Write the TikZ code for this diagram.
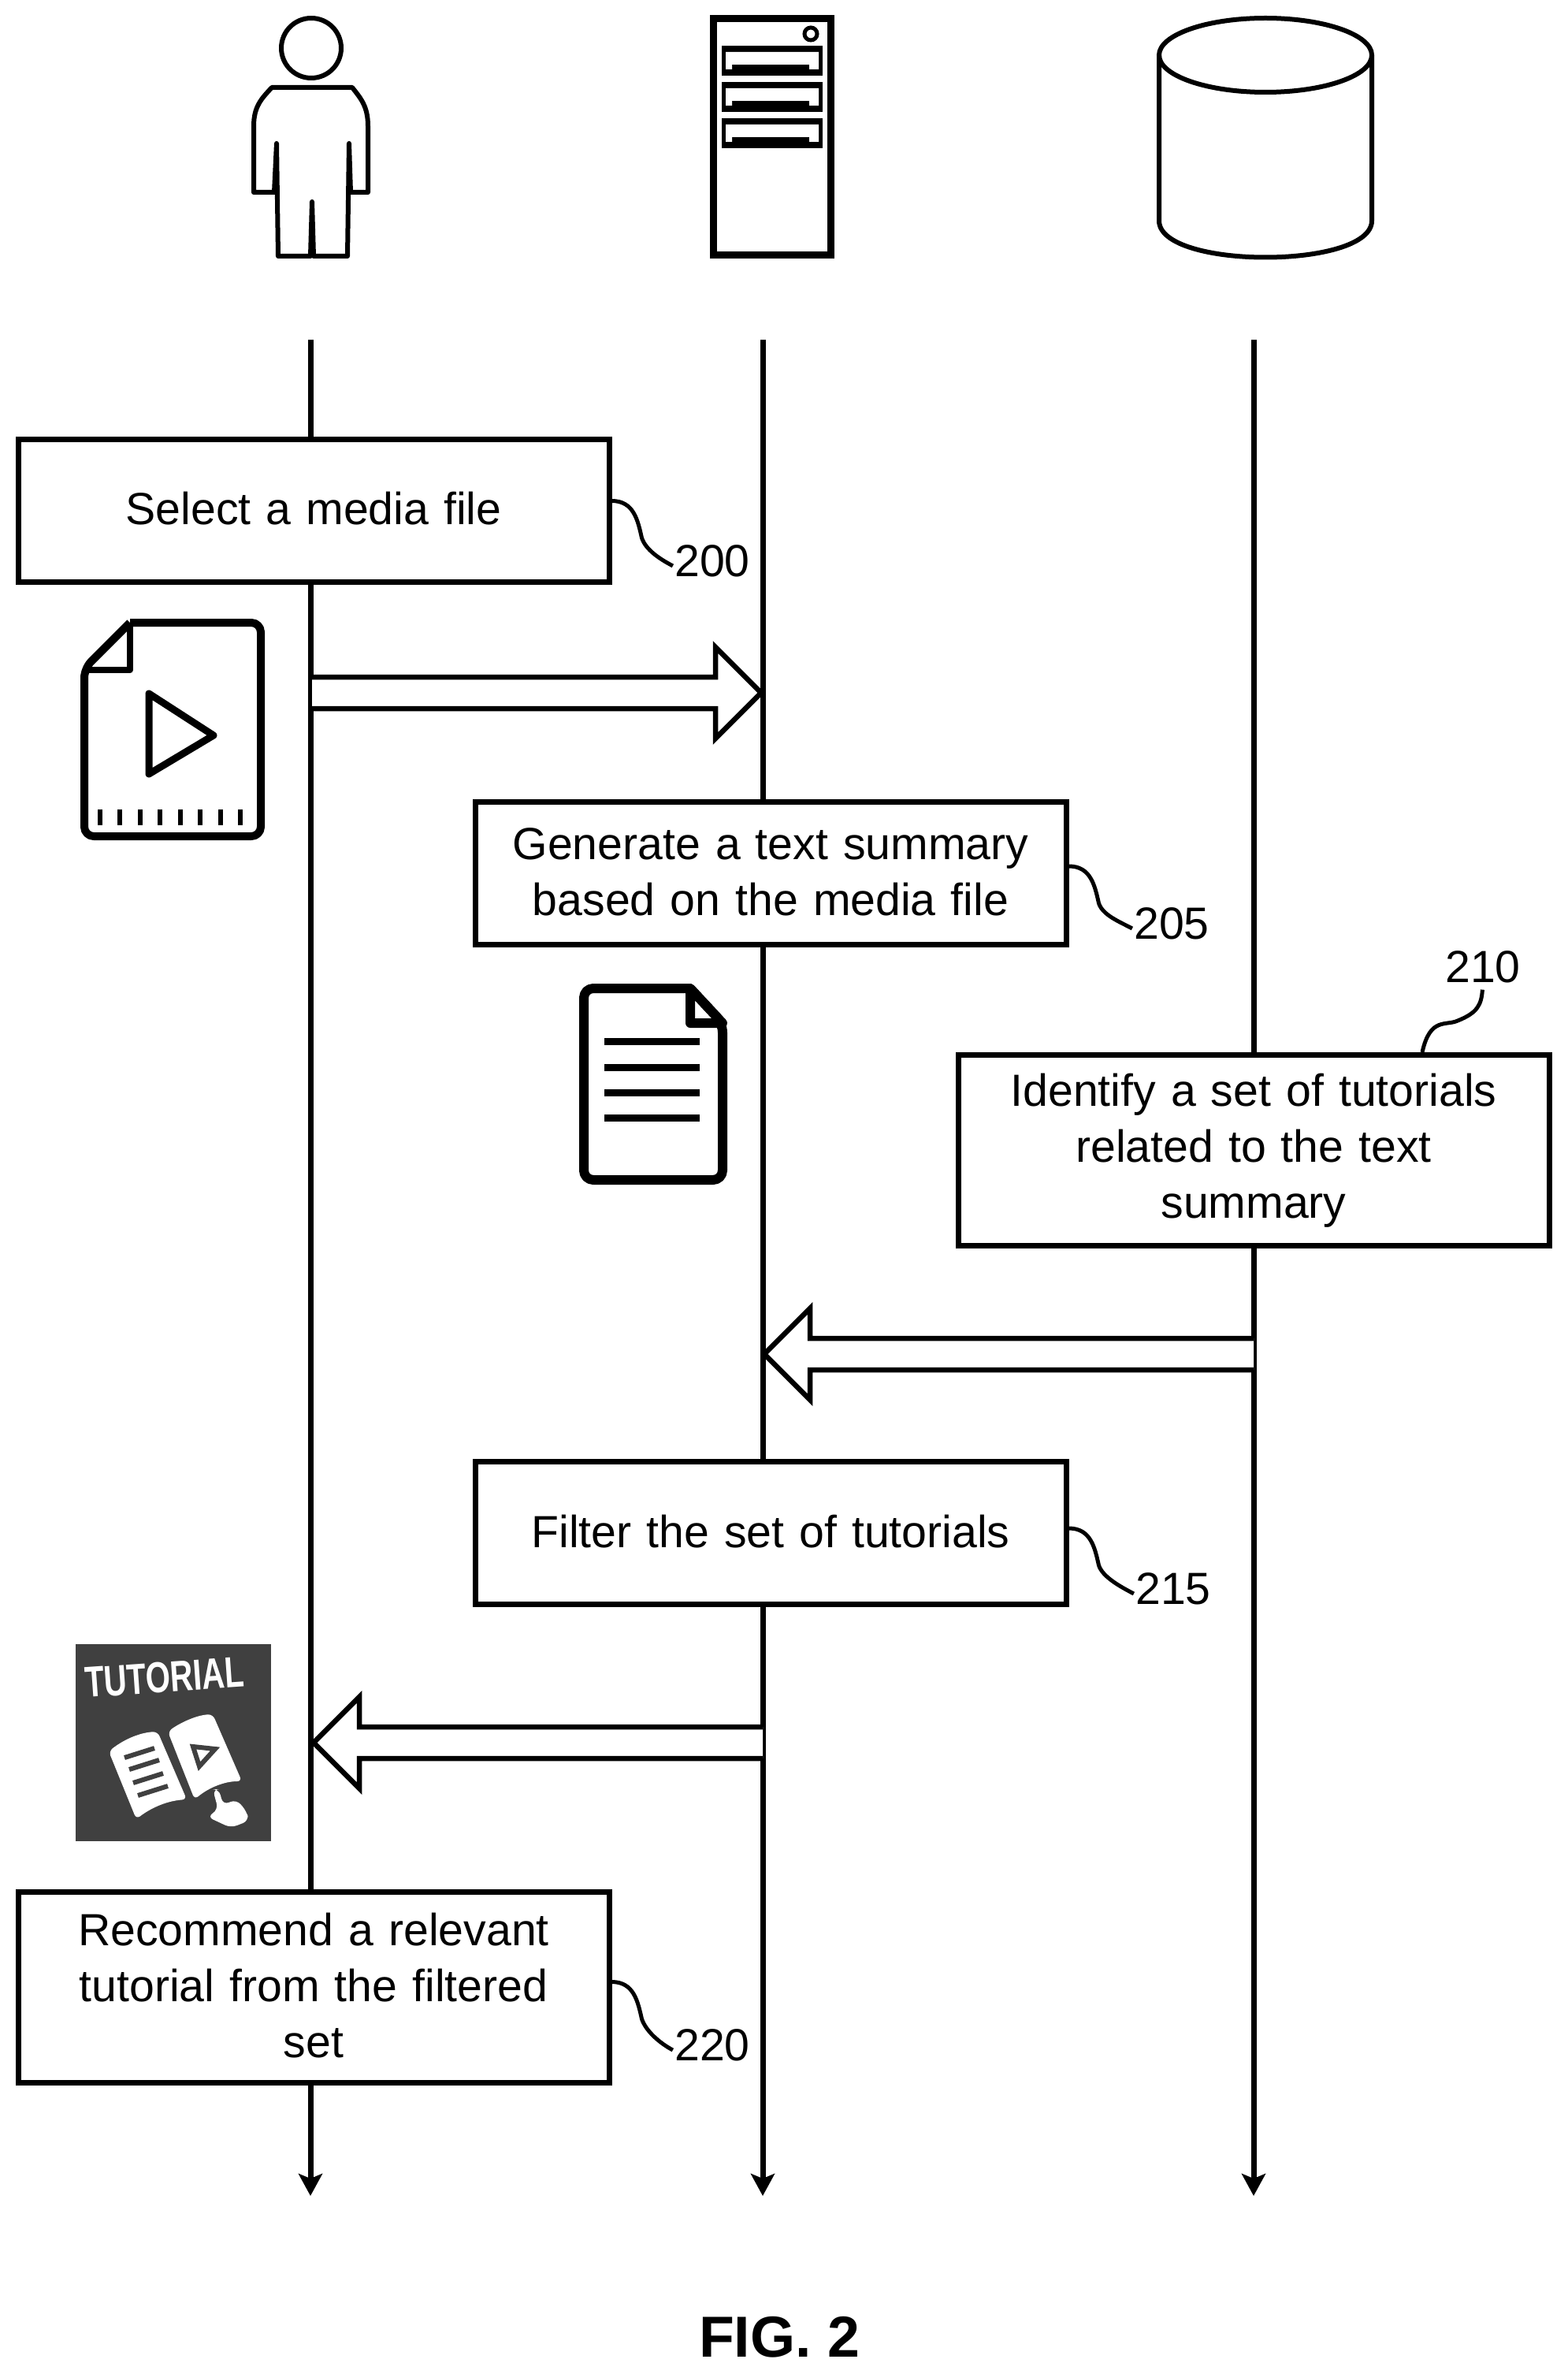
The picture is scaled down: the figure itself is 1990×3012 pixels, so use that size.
\documentclass[tikz,border=0pt]{standalone}
\usepackage{fontspec}
\setmainfont{Liberation Sans}
\usetikzlibrary{arrows.meta,calc}
\tikzset{
  lbl/.style={font=\fontsize{28.6}{35.5}\selectfont},
  stepbox/.style={draw, line width=3.5pt, fill=white, minimum width=375pt, text width=350pt, align=center, lbl,
    execute at end node={\par\vspace{2pt}}},
  life/.style={line width=3.5pt, -{Stealth[length=14pt,width=15pt,inset=3pt]}},
  lead/.style={line width=2.5pt},
  glyph/.style={draw, line width=3pt},
  icon/.style={draw, line width=5pt, rounded corners=6pt, line join=round},
  block/.style={draw, line width=3.25pt, fill=white, line join=miter}
}
% hollow arrow from the first coordinate to the second, #3 = 1 right, -1 left
\newcommand{\blockarrow}[3]{
  \draw[block] ($(#1)+(0,-20)$) -- ($(#2)+(-#3*58,-20)$) -- ($(#2)+(-#3*58,-58)$) -- (#2)
        -- ($(#2)+(-#3*58,58)$) -- ($(#2)+(-#3*58,20)$) -- ($(#1)+(0,20)$);
}
% wavy line from a step to its numeral, #3 = start below the top of the step
\newcommand{\leadcurve}[3]{
  \draw[lead] ($(#1.north east)+(0,#3)$) .. controls +(28,0) and +(-5,-22) .. ++(38,47)
        .. controls +(5,15) and +(-17,-9) .. ($(#2.west)+(-2,6)$);
}
\begin{document}
\begin{tikzpicture}[x=0.5pt, y=-0.5pt]
  \useasboundingbox (0,0) rectangle (1990,3012);

  % actors
  \draw[glyph] (395,61) circle (38);
  \draw[glyph, line join=round] (345,111) -- (447,111) .. controls (458,125) and (467,135) .. (467,160)
        -- (467,244) -- (445,244) -- (443,182) -- (441,325) -- (398,325) -- (396,256) -- (394,325)
        -- (353,325) -- (351,182) -- (348,244) -- (322,244) -- (322,160)
        .. controls (322,135) and (332,125) .. (345,111) -- cycle;

  \draw[line width=4.5pt] (905,24) rectangle (1054,324);
  \draw[line width=2.5pt] (1029,43) circle (8);
  \foreach \y in {58,104,150} {
    \fill (916,\y) rectangle (1044,\y+38);
    \fill[white] (921,\y+8) -- (1039,\y+8) -- (1039,\y+30) -- (1027,\y+30) -- (1027,\y+24)
          -- (929,\y+24) -- (929,\y+30) -- (921,\y+30) -- cycle;
  }

  \draw[glyph] (1606,70) ellipse (135 and 47);
  \draw[glyph] (1471,70) -- (1471,280) .. controls (1471,342) and (1741,342) .. (1741,280) -- (1741,70);

  % lifelines
  \coordinate (usertop) at (394,431);
  \coordinate (userend) at (394,2786);
  \coordinate (srvtop) at (968,431);
  \coordinate (srvend) at (968,2786);
  \coordinate (dbtop) at (1591,431);
  \coordinate (dbend) at (1591,2786);
  \draw[life] (usertop) -- (userend);
  \draw[life] (srvtop) -- (srvend);
  \draw[life] (dbtop) -- (dbend);

  % steps
  \node[stepbox, minimum height=90.5pt] (select) at (398,647.5) {Select a media file};
  \node[stepbox, minimum height=90.5pt] (generate) at (978,1108) {Generate a text summary\\based on the media file};
  \node[stepbox, minimum height=121pt, execute at end node={\par\vspace{-3pt}}] (identify) at (1591,1459) {Identify a set of tutorials\\related to the text\\summary};
  \node[stepbox, minimum height=90.5pt] (filter) at (978,1945) {Filter the set of tutorials};
  \node[stepbox, minimum height=121pt] (recommend) at (398,2521) {Recommend a relevant\\tutorial from the filtered\\set};

  % reference numerals
  \node[lbl, inner sep=0pt] (n200) at (904,712) {200};
  \node[lbl, inner sep=0pt] (n205) at (1487,1172) {205};
  \node[lbl, inner sep=0pt] (n210) at (1882,1227) {210};
  \node[lbl, inner sep=0pt] (n215) at (1489,2016) {215};
  \node[lbl, inner sep=0pt] (n220) at (904,2595) {220};
  \leadcurve{select}{n200}{82}
  \leadcurve{generate}{n205}{85}
  \leadcurve{filter}{n215}{88}
  \leadcurve{recommend}{n220}{118}
  \coordinate (foot210) at (1805,1335);
  \draw[lead, shorten >=4pt] (foot210) .. controls (1815,1290) and (1835,1302) .. (1850,1295)
        .. controls (1875,1285) and (1880,1275) .. (n210.south);

  % messages
  \coordinate (m1a) at (396,879);
  \coordinate (m1b) at (966,879);
  \coordinate (m2a) at (1591,1718);
  \coordinate (m2b) at (970,1718);
  \coordinate (m3a) at (968,2211);
  \coordinate (m3b) at (398,2211);
  \blockarrow{m1a}{m1b}{1}
  \blockarrow{m2a}{m2b}{-1}
  \blockarrow{m3a}{m3b}{-1}

  % media file
  \draw[icon] (165,790) -- (331,790) -- (331,1061) -- (107,1061) -- (107,848) -- (165,790);
  \draw[line width=4pt, line join=round] (165,790) -- (165,850) -- (107,850);
  \draw[line width=4.5pt, line join=round] (189,880) -- (271,933) -- (189,982) -- cycle;
  \foreach \x in {127,152,178,203,229,254,280,305}
    \draw[line width=3pt] (\x,1027) -- (\x,1047);

  % text document
  \draw[icon, line width=6pt] (876,1254) -- (917,1298) -- (917,1497) -- (741,1497) -- (741,1254) -- (876,1254);
  \draw[line width=6pt, line join=round] (876,1254) -- (876,1298) -- (917,1298) -- cycle;
  \foreach \y in {1321,1354,1386,1418}
    \draw[line width=4.5pt] (767,\y) -- (888,\y);

  % tutorial badge
  \fill[black!75] (96,2086) rectangle (344,2336);
  \node[white, inner sep=0pt, rotate=4, xscale=0.73, font=\bfseries\fontsize{27.5}{27.5}\selectfont] (badge) at (209,2128) {TUTORIAL};
  \fill[white, rounded corners=3pt] (138,2222) .. controls (160,2205) and (180,2198) .. (200,2197)
        -- (237,2283) .. controls (210,2285) and (190,2295) .. (173,2308) -- cycle;
  \fill[white, rounded corners=3pt] (213,2197) .. controls (230,2185) and (250,2176) .. (270,2175)
        -- (307,2260) .. controls (285,2260) and (265,2268) .. (247,2283) -- cycle;
  \foreach \a/\b in {158/2230, 164/2245, 169/2262, 175/2278}
    \draw[black!75, line width=3pt] (\a,\b) -- ++(38,-12);
  \draw[black!75, line width=3pt] (245,2216) -- (273,2219) -- (253,2241) -- cycle;
  \fill[white, rounded corners=4pt] (270,2270) -- (278,2270) -- (283,2290) -- (300,2283) -- (313,2298)
        -- (316,2310) -- (293,2319) -- (263,2305) -- (277,2296) -- cycle;

  \node[font=\bfseries\fontsize{36.7}{40}\selectfont, inner sep=0pt] (fig) at (989,2965) {FIG. 2};
\end{tikzpicture}
\end{document}
